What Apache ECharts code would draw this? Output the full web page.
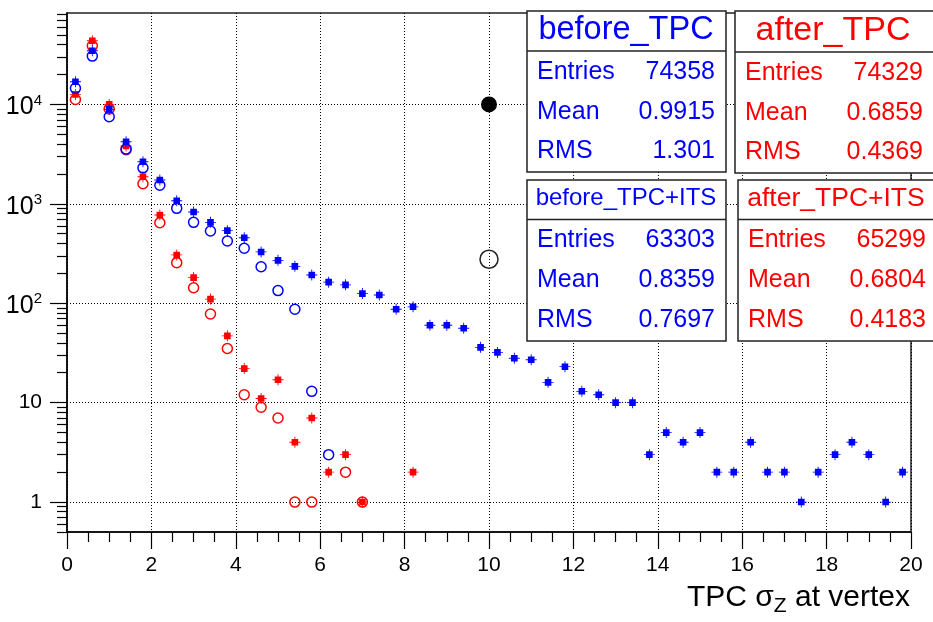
<!DOCTYPE html>
<html>
<head>
<meta charset="utf-8">
<script src="https://cdn.jsdelivr.net/npm/echarts@6/dist/echarts.min.js"></script>
<style>
  html, body { margin: 0; padding: 0; background: #ffffff; }
  #chart { width: 933px; height: 622px; }
</style>
</head>
<body>
<div id="chart"></div>
<script>
// Bin centres of the TPC sigma_Z histograms (bin width 0.4)
const binCenters = [0.2, 0.6, 1.0, 1.4, 1.8, 2.2, 2.6, 3.0, 3.4, 3.8,
                    4.2, 4.6, 5.0, 5.4, 5.8, 6.2, 6.6, 7.0, 7.4, 7.8,
                    8.2, 8.6, 9.0, 9.4, 9.8, 10.2, 10.6, 11.0, 11.4, 11.8,
                    12.2, 12.6, 13.0, 13.4, 13.8, 14.2, 14.6, 15.0, 15.4, 15.8,
                    16.2, 16.6, 17.0, 17.4, 17.8, 18.2, 18.6, 19.0, 19.4, 19.8];

// Bin contents (null = empty bin)
const beforeTPC = [16900, 34600, 8900, 4210, 2650, 1735, 1074, 827, 651, 537,
                   456, 328, 270, 235, 192, 163, 153, 125, 121, 87,
                   92, 60, 60, 56, 36, 32, 28, 27, 16, 23,
                   13, 12, 10, 10, 3, 5, 4, 5, 2, 2,
                   4, 2, 2, 1, 2, 3, 4, 3, 1, 2];
const beforeTPCITS = [14500, 30600, 7500, 3550, 2300, 1535, 900, 651, 533, 423,
                      357, 233, 134, 87, 13, 3];
const afterTPC = [12600, 43600, 10000, 3810, 1870, 771, 306, 181, 110, 47,
                  22, 11, 17, 4, 7, 2, 3, 1, null, null, 2];
const afterTPCITS = [11200, 38800, 9000, 3500, 1590, 645, 256, 143, 78, 35,
                     12, 9, 7, 1, 1, null, 2, 1];

// Two single reference markers
const filledRef = [[10, 10000]];
const openRef = [[10, 277]];

// Axis ticks
const xMin = 0, xMax = 20, xStep = 2;
const yMin = 0.5, yMax = 83000;
const yDecades = [1, 10, 100, 1000, 10000];

// Statistics boxes
const statTitles = ['before_TPC', 'after_TPC', 'before_TPC+ITS', 'after_TPC+ITS'];
const statEntries = ['74358', '74329', '63303', '65299'];
const statMeans = ['0.9915', '0.6859', '0.8359', '0.6804'];
const statRMS = ['1.301', '0.4369', '0.7697', '0.4183'];

const BLUE = '#0000ff', RED = '#ff0000';
const FONT = '"Liberation Sans", Arial, Helvetica, sans-serif';
// filled square with short error-bar stubs
const SQUARE_MARK = 'path://M2,2H8V8H2Z M0,4.6H2V5.4H0Z M8,4.6H10V5.4H8Z M4.6,0H5.4V2H4.6Z M4.6,8H5.4V10H4.6Z';

function toPoints(values) {
  const pts = [];
  values.forEach(function (v, i) { if (v !== null) pts.push([binCenters[i], v]); });
  return pts;
}

// minor ticks of the log axis: 2..9 x 10^k inside the range
const yMinor = [];
for (let e = -1; e <= 4; e++) {
  for (let m = 2; m <= 9; m++) {
    const v = m * Math.pow(10, e);
    if (v >= yMin && v <= yMax) yMinor.push(v);
  }
}

const chart = echarts.init(document.getElementById('chart'), null, { renderer: 'canvas' });

function statBox(idx, x, y, w, h, headH, titleSize, textLeft, textRight, color, titleCx) {
  const font = function (s) { return s + 'px ' + FONT; };
  const row = function (label, value, dy) {
    return [
      { type: 'text', z: 102, style: { text: label, x: textLeft, y: y + headH + dy,
        fill: color, font: font(25), align: 'left', verticalAlign: 'middle' } },
      { type: 'text', z: 102, style: { text: value, x: textRight, y: y + headH + dy,
        fill: color, font: font(25), align: 'right', verticalAlign: 'middle' } }
    ];
  };
  return {
    type: 'group', z: 100,
    children: [
      { type: 'rect', shape: { x: x, y: y, width: w, height: h },
        style: { fill: '#fff', stroke: '#222', lineWidth: 1.5 }, z: 100 },
      { type: 'line', shape: { x1: x, y1: y + headH, x2: x + w, y2: y + headH },
        style: { stroke: '#222', lineWidth: 1.5 }, z: 101 },
      { type: 'text', z: 102, style: { text: statTitles[idx], x: titleCx, y: y + headH / 2 - 1,
        fill: color, font: font(titleSize), align: 'center', verticalAlign: 'middle' } }
    ].concat(row('Entries', statEntries[idx], 21))
     .concat(row('Mean', statMeans[idx], 61))
     .concat(row('RMS', statRMS[idx], 100.5))
  };
}

const option = {
  backgroundColor: '#ffffff',
  animation: false,
  grid: {
    left: 67, right: 22, top: 13, bottom: 90,
    show: true, borderColor: '#222', borderWidth: 1.5, backgroundColor: 'transparent'
  },
  xAxis: {
    type: 'value', min: xMin, max: xMax, interval: xStep,
    axisLine: { show: true, onZero: false, lineStyle: { color: '#000', width: 1.5 } },
    axisTick: { show: true, inside: false, length: 17, lineStyle: { color: '#000', width: 1.2 } },
    minorTick: { show: true, splitNumber: 4, length: 10, lineStyle: { color: '#000', width: 1.2 } },
    axisLabel: { margin: 23, fontSize: 21, color: '#000', fontFamily: FONT },
    splitLine: { show: true, lineStyle: { color: '#000', width: 1, type: [1, 2] } }
  },
  yAxis: [
    {
      type: 'log', logBase: 10, min: yMin, max: yMax, position: 'left',
      axisLine: { show: true, onZero: false, lineStyle: { color: '#000', width: 1.5 } },
      axisTick: { show: true, inside: false, length: 17, customValues: yDecades,
                  lineStyle: { color: '#000', width: 1.2 } },
      axisLabel: {
        customValues: yDecades, margin: 25, color: '#000', fontFamily: FONT,
        formatter: function (v) {
          const e = Math.round(Math.log10(v));
          if (e === 0) return '{p|1}';
          if (e === 1) return '{p|10}';
          return '{b|10}{e|' + e + '}';
        },
        rich: {
          p: { fontSize: 21, fontFamily: FONT, color: '#000' },
          b: { fontSize: 25, fontFamily: FONT, color: '#000', padding: [6, 0, 0, 0] },
          e: { fontSize: 15, fontFamily: FONT, color: '#000', padding: [0, 0, 8, 0] }
        }
      },
      splitLine: { show: true, lineStyle: { color: '#000', width: 1, type: [1, 2] } }
    },
    {
      type: 'log', logBase: 10, min: yMin, max: yMax, position: 'left',
      axisLine: { show: false },
      axisTick: { show: true, inside: false, length: 10, customValues: yMinor,
                  lineStyle: { color: '#000', width: 1.2 } },
      axisLabel: { show: false },
      splitLine: { show: false }
    }
  ],
  series: [
    { name: 'after_TPC+ITS', type: 'scatter', data: toPoints(afterTPCITS),
      symbol: 'circle', symbolSize: 10, z: 2,
      itemStyle: { color: 'transparent', borderColor: RED, borderWidth: 1.5, opacity: 1 } },
    { name: 'after_TPC', type: 'scatter', data: toPoints(afterTPC),
      symbol: SQUARE_MARK, symbolSize: 11, z: 3,
      itemStyle: { color: RED, opacity: 1 } },
    { name: 'before_TPC+ITS', type: 'scatter', data: toPoints(beforeTPCITS),
      symbol: 'circle', symbolSize: 10, z: 4,
      itemStyle: { color: 'transparent', borderColor: BLUE, borderWidth: 1.5, opacity: 1 } },
    { name: 'before_TPC', type: 'scatter', data: toPoints(beforeTPC),
      symbol: SQUARE_MARK, symbolSize: 11, z: 5,
      itemStyle: { color: BLUE, opacity: 1 } },
    { name: 'ref_filled', type: 'scatter', data: filledRef,
      symbol: 'circle', symbolSize: 16, z: 6,
      itemStyle: { color: '#000', opacity: 1 } },
    { name: 'ref_open', type: 'scatter', data: openRef,
      symbol: 'circle', symbolSize: 18, z: 6,
      itemStyle: { color: 'transparent', borderColor: '#222', borderWidth: 1.5, opacity: 1 } }
  ],
  graphic: [
    statBox(0, 527, 11, 199, 161, 40, 32.5, 537, 715, BLUE, 626),
    statBox(1, 735, 11, 240, 162, 41, 34, 745, 923, RED, 833),
    statBox(2, 527, 180, 199, 161, 39.5, 24, 537, 715, BLUE, 626),
    statBox(3, 738, 180, 240, 161, 39.5, 26.5, 748, 926, RED, 836),
    {
      type: 'text', z: 50,
      style: {
        x: 910, y: 598, align: 'right', verticalAlign: 'middle',
        text: '{n|TPC σ}{s|Z}{n| at vertex}',
        rich: {
          n: { fontSize: 30, fontFamily: FONT, fill: '#000' },
          s: { fontSize: 21, fontFamily: FONT, fill: '#000', padding: [16, 0, 0, 0] }
        }
      }
    }
  ]
};

chart.setOption(option);
</script>
</body>
</html>
